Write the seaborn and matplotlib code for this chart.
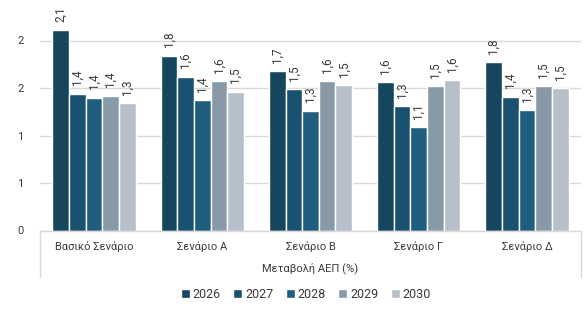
import matplotlib
matplotlib.use("Agg")
import matplotlib.pyplot as plt
import seaborn as sns
import pandas as pd

categories = ["Βασικό Σενάριο", "Σενάριο Α", "Σενάριο Β", "Σενάριο Γ", "Σενάριο Δ"]
years = ["2026", "2027", "2028", "2029", "2030"]
values = {
    "2026": [2.11, 1.84, 1.68, 1.56, 1.77],
    "2027": [1.44, 1.62, 1.49, 1.31, 1.41],
    "2028": [1.40, 1.37, 1.26, 1.09, 1.27],
    "2029": [1.42, 1.57, 1.57, 1.52, 1.52],
    "2030": [1.34, 1.46, 1.53, 1.58, 1.50],
}
ytick_values = [0, 0.5, 1.0, 1.5, 2.0]
ytick_labels = ["0", "1", "1", "2", "2"]
axis_title = "Μεταβολή ΑΕΠ (%)"
colors = ["#16465e", "#1b5170", "#1f5e7e", "#889aa8", "#b7c0ca"]

rows = []
for y in years:
    for c, v in zip(categories, values[y]):
        rows.append({"scenario": c, "year": y, "value": v})
df = pd.DataFrame(rows)

sns.set_style("white")
plt.rcParams["font.family"] = ["Roboto", "DejaVu Sans"]
text_color = "#3a3a3a"

fig = plt.figure(figsize=(5.85, 3.21), dpi=100)
ax = fig.add_axes([40 / 585, 90.5 / 321, 541 / 585, 228 / 321])

sns.barplot(data=df, x="scenario", y="value", hue="year", palette=colors,
            order=categories, hue_order=years, width=0.77, ax=ax,
            edgecolor="white", linewidth=1.0, saturation=1, legend=True)

ax.set_ylim(0, 2.4)
ax.set_xlim(-0.5, len(categories) - 0.5)
ax.set_yticks(ytick_values)
ax.set_yticklabels(ytick_labels)
ax.yaxis.grid(True, color="#d9d9d9", linewidth=1)
ax.set_axisbelow(True)
for s in ["top", "right", "left"]:
    ax.spines[s].set_visible(False)
ax.spines["bottom"].set_color("#d9d9d9")
ax.spines["bottom"].set_linewidth(1)
ax.tick_params(axis="both", length=0, labelsize=8, colors=text_color)
ax.tick_params(axis="y", pad=12)
ax.tick_params(axis="x", pad=8)
ax.set_xlabel("")
ax.set_ylabel("")

for cont, y in zip(ax.containers, years):
    labs = [f"{v:.1f}".replace(".", ",") for v in values[y]]
    ax.bar_label(cont, labels=labs, rotation=90, padding=6, fontsize=8.5, color=text_color)

# multi-level category axis frame
for xx in [0, 1]:
    ax.plot([xx, xx], [0, -0.204], transform=ax.transAxes, color="#d9d9d9",
            linewidth=1, clip_on=False)
fig.text(310 / 585, 1 - 268 / 321, axis_title, ha="center", va="center",
         fontsize=8, color=text_color)

handles, labels = ax.get_legend_handles_labels()
ax.legend_.remove()
leg = fig.legend(handles, labels, loc="center", ncol=5,
                 bbox_to_anchor=(306 / 585, 1 - 294 / 321), frameon=False,
                 fontsize=9, handlelength=0.7, handleheight=0.7,
                 handletextpad=0.25, columnspacing=1.0, labelcolor=text_color)

fig.savefig("out.png", dpi=100)
